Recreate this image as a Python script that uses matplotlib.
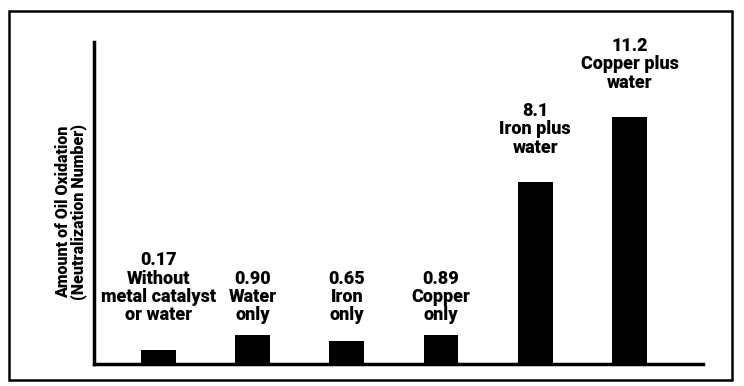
import matplotlib.pyplot as plt
from matplotlib.patches import Rectangle

# valeurs affichées au-dessus des barres
value_labels = ["0.17", "0.90", "0.65", "0.89", "8.1", "11.2"]
# conditions d'essai
conditions = ["Without\nmetal catalyst\nor water", "Water\nonly", "Iron\nonly",
              "Copper\nonly", "Iron plus\nwater", "Copper plus\nwater"]
# hauteurs des barres (échelle du graphique)
bar_heights = [0.63, 1.32, 1.04, 1.32, 8.25, 11.2]

plt.rcParams['font.family'] = ['Roboto', 'DejaVu Sans']

fig = plt.figure(figsize=(7.44, 3.86), dpi=100)
ax = fig.add_axes([0.126, 0.057, 0.819, 0.834])

x = range(len(bar_heights))
ax.bar(x, bar_heights, width=0.37, color='black')

for i, h in enumerate(bar_heights):
    # étiquettes des petites barres alignées à la même hauteur
    y = h + 1.15 if h > 5 else 1.8
    ax.text(i, y, value_labels[i] + "\n" + conditions[i], ha='center', va='bottom',
            fontsize=13, fontweight='black', linespacing=1.02)

ax.set_xlim(-0.685, 5.78)
ax.set_ylim(0, 14.6)
ax.set_xticks([])
ax.set_yticks([])
ax.spines['top'].set_visible(False)
ax.spines['right'].set_visible(False)
ax.spines['left'].set_linewidth(2.5)
ax.spines['bottom'].set_linewidth(2.5)

fig.text(71 / 744, 1 - 212 / 386, "Amount of Oil Oxidation\n(Neutralization Number)",
         rotation=90, ha='center', va='center', multialignment='center',
         fontsize=11.5, fontweight='black', linespacing=0.95)

# cadre extérieur
fig.patches.append(Rectangle((9 / 744, 1 - 380 / 386), 723 / 744, 369 / 386,
                             transform=fig.transFigure, fill=False,
                             edgecolor='black', linewidth=1.8))

fig.savefig("out.png", dpi=100)
